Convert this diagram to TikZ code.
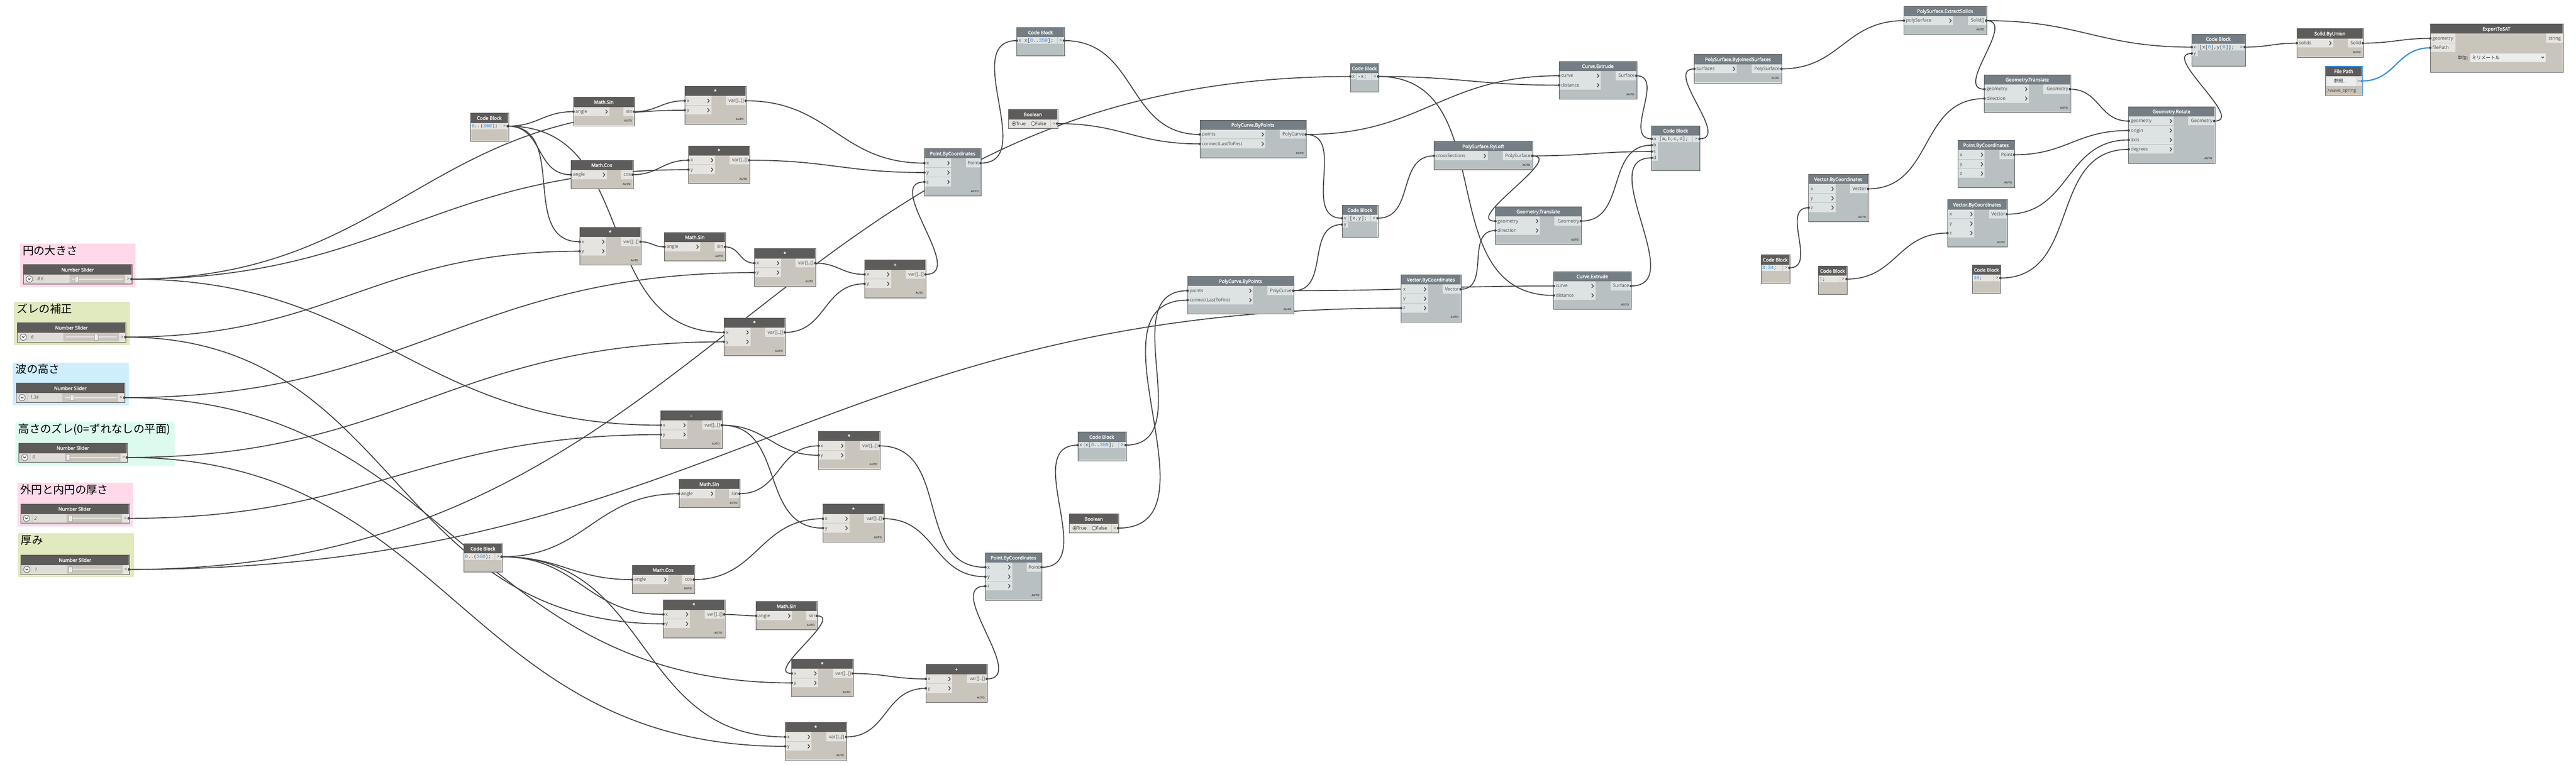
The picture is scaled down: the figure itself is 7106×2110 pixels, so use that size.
\documentclass[tikz,border=0pt]{standalone}
\usepackage{fontspec}
\setmainfont{Open Sans}
\newfontfamily\titlefont[FakeBold=2.5]{Open Sans}
\newfontfamily\jpfont{Noto Sans CJK JP}
\newfontfamily\monofont{Liberation Mono}
\usetikzlibrary{calc}
\pgfdeclarelayer{bg}\pgfdeclarelayer{groups}\pgfdeclarelayer{wires}\pgfdeclarelayer{knobs}
\pgfsetlayers{bg,groups,wires,main,knobs}
\definecolor{hdrD}{HTML}{5E5C5A}
\definecolor{bodyD}{HTML}{C9C5BD}
\definecolor{portD}{HTML}{E6E4E0}
\definecolor{hdrB}{HTML}{747E84}
\definecolor{bodyB}{HTML}{B8C0C2}
\definecolor{portB}{HTML}{DDE2E3}
\definecolor{nodeedge}{HTML}{5A5A5A}
\definecolor{wirec}{HTML}{444444}
\definecolor{txtc}{HTML}{474747}
\definecolor{codec}{HTML}{3A3A3A}
\definecolor{numblue}{HTML}{2E8CE6}
\definecolor{gpink}{HTML}{FFD9EA}
\definecolor{ggreen}{HTML}{E1E9BE}
\definecolor{gblue}{HTML}{CEEEFD}
\definecolor{gmint}{HTML}{DCFBEE}
\definecolor{fpblue}{HTML}{3A8EDD}
\definecolor{sbtn}{HTML}{DCD9D5}
\definecolor{sval}{HTML}{E0DDD9}
\definecolor{strack}{HTML}{E9E7E4}
\definecolor{ddbg}{HTML}{EDEDED}
\tikzset{
 titletxt/.style={font=\titlefont\fontsize{3.3}{3.6}\selectfont, text=white, inner sep=0},
 porttxt/.style={font=\fontsize{3.2}{3.5}\selectfont, text=txtc, inner sep=0},
 valtxt/.style={font=\itshape\fontsize{3.1}{3.4}\selectfont, text=txtc, inner sep=0},
 autotxt/.style={font=\bfseries\fontsize{1.9}{2}\selectfont, text=txtc, inner sep=0},
 codetxt/.style={font=\monofont\fontsize{3.35}{3.6}\selectfont, text=codec, inner sep=0},
 jptxt/.style={font=\jpfont\fontsize{3.2}{3.5}\selectfont, text=black!85, inner sep=0},
 grouptitle/.style={font=\jpfont\fontsize{7.6}{8}\selectfont, text=black, inner sep=0},
 wire/.style={draw=wirec, line width=0.65pt},
 chev/.style={draw=txtc, line width=0.5pt, line cap=round, line join=round},
 nodeline/.style={draw=nodeedge, line width=0.25pt},
}
\newcommand{\pw}[1]{#1*0.25pt}
\newcommand{\cnum}[1]{\textcolor{numblue}{#1}}
\newcommand{\setdims}[3]{\def\dNW{#1}\def\dNI{#2}\def\dNO{#3}}
% generic Dynamo node
\newcommand{\dnode}[8]{%
 \pgfmathsetmacro\dnh{51+26*#8}%
 \node[fill=body#4, inner sep=0, minimum width={\pw{\dNW}}, minimum height={\pw{\dnh}}, anchor=north west] (#1) at (#2,#3) {};
 \fill[hdr#4] (#2,#3) rectangle ++(\dNW,27);
 \node[titletxt, anchor=base] at ({#2+\dNW/2},{#3+18.5}) {#5};
 \foreach \lab [count=\i] in {#6} {%
   \fill[port#4] (#2,{#3+27+26*(\i-1)}) rectangle ++(\dNI,25);
   \node[porttxt, anchor=base west] at ({#2+5},{#3+44+26*(\i-1)}) {\lab};
   \draw[chev] ({#2+\dNI-10},{#3+35+26*(\i-1)}) -- ++(4.5,5) -- ++(-4.5,5);
   \coordinate (#1-i\i) at (#2,{#3+40+26*(\i-1)});
 }%
 \foreach \lab [count=\i] in {#7} {%
   \fill[port#4] ({#2+\dNW-\dNO},{#3+27+26*(\i-1)}) rectangle ++(\dNO,25);
   \node[porttxt, anchor=base east] at ({#2+\dNW-4},{#3+44+26*(\i-1)}) {\lab};
   \coordinate (#1-o\i) at ({#2+\dNW},{#3+40+26*(\i-1)});
 }%
 \node[autotxt, anchor=east] at ({#2+\dNW-5},{#3+\dnh-11.5}) {AUTO};
 \draw[nodeline] (#1.north west) rectangle (#1.south east);
}
\newcommand{\opnode}[4]{\setdims{168}{73}{54}\dnode{#1}{#2}{#3}{D}{#4}{x,y}{var[]..[]}{2}}
\newcommand{\sinnode}[3]{\setdims{167}{99}{29}\dnode{#1}{#2}{#3}{D}{Math.Sin}{angle}{sin}{1}}
\newcommand{\cosnode}[3]{\setdims{170}{99}{32}\dnode{#1}{#2}{#3}{D}{Math.Cos}{angle}{cos}{1}}
\newcommand{\pbcnode}[3]{\setdims{155}{74}{40}\dnode{#1}{#2}{#3}{B}{Point.ByCoordinates}{x,y,z}{Point}{3}}
\newcommand{\vbcnode}[3]{\setdims{164}{74}{49}\dnode{#1}{#2}{#3}{B}{Vector.ByCoordinates}{x,y,z}{Vector}{3}}
\newcommand{\pcbnode}[3]{\setdims{292}{181}{72}\dnode{#1}{#2}{#3}{B}{PolyCurve.ByPoints}{points,connectLastToFirst}{PolyCurve}{2}}
\newcommand{\cenode}[3]{\setdims{213}{115}{57}\dnode{#1}{#2}{#3}{B}{Curve.Extrude}{curve,distance}{Surface}{2}}
\newcommand{\gtnode}[3]{\setdims{236}{123}{73}\dnode{#1}{#2}{#3}{B}{Geometry.Translate}{geometry,direction}{Geometry}{2}}
% code block: name x y w theme ninputs labels code
\newcommand{\cblock}[8]{%
 \pgfmathsetmacro\dnh{max(77,52+17.5*#6)}%
 \node[fill=body#5, inner sep=0, minimum width={\pw{#4}}, minimum height={\pw{\dnh}}, anchor=north west] (#1) at (#2,#3) {};
 \fill[hdr#5] (#2,#3) rectangle ++(#4,27);
 \node[titletxt, anchor=base] at ({#2+#4/2},{#3+18.5}) {Code Block};
 \ifnum#6>0
   \foreach \lab [count=\i] in {#7} {%
     \fill[port#5] (#2,{#3+27+17.5*(\i-1)}) rectangle ++(17,17);
     \node[porttxt, anchor=base] at ({#2+8.5},{#3+40+17.5*(\i-1)}) {\lab};
     \coordinate (#1-i\i) at (#2,{#3+36+17.5*(\i-1)});
   }%
   \fill[port#5] ({#2+18},{#3+27}) rectangle ({#2+#4-19},{#3+45});
   \node[codetxt, anchor=base west] at ({#2+20},{#3+40}) {#8};
 \else
   \fill[port#5] (#2,{#3+27}) rectangle ({#2+#4-19},{#3+45});
   \node[codetxt, anchor=base west] at ({#2+2},{#3+40}) {#8};
 \fi
 \fill[port#5] ({#2+#4-18},{#3+27}) rectangle ({#2+#4},{#3+45});
 \node[porttxt, anchor=base] at ({#2+#4-9},{#3+40}) {>};
 \coordinate (#1-o) at ({#2+#4},{#3+36});
 \draw[nodeline] (#1.north west) rectangle (#1.south east);
}
% number slider: name x y value thumb
\newcommand{\slider}[5]{%
 \node[fill=bodyD, inner sep=0, minimum width={\pw{298}}, minimum height={\pw{52}}, anchor=north west] (#1) at (#2,#3) {};
 \fill[hdrD] (#2,#3) rectangle ++(298,28);
 \node[titletxt, anchor=base] at ({#2+149},{#3+19}) {Number Slider};
 \fill[sbtn] (#2,{#3+28}) rectangle ++(31,24);
 \draw[fill=white!96!black, draw=txtc, line width=0.25pt] ({#2+16},{#3+40}) circle[radius=2.2pt];
 \draw[chev] ({#2+13},{#3+38.5}) -- ({#2+16},{#3+41.5}) -- ({#2+19},{#3+38.5});
 \fill[sval] ({#2+32},{#3+28}) rectangle ({#2+127},{#3+52});
 \node[valtxt, anchor=base west] at ({#2+37},{#3+44}) {#4};
 \draw[draw=strack, line width=0.75pt] ({#2+134},{#3+40}) -- ({#2+275},{#3+40});
 \draw[fill=white!93!black, draw=black!35, line width=0.2pt] ({#2+#5},{#3+32}) rectangle ++(10,16);
 \fill[portD] ({#2+280},{#3+28}) rectangle ({#2+298},{#3+52});
 \node[porttxt, anchor=base] at ({#2+289},{#3+44}) {>};
 \coordinate (#1-o) at ({#2+298},{#3+40});
 \draw[nodeline] (#1.north west) rectangle (#1.south east);
}
\newcommand{\boolnode}[3]{%
 \node[fill=bodyD, inner sep=0, minimum width={\pw{134}}, minimum height={\pw{51}}, anchor=north west] (#1) at (#2,#3) {};
 \fill[hdrD] (#2,#3) rectangle ++(134,27);
 \node[titletxt, anchor=base] at ({#2+67},{#3+18.5}) {Boolean};
 \fill[portD] (#2,{#3+27}) rectangle ({#2+116},{#3+51});
 \fill[portD] ({#2+117},{#3+27}) rectangle ({#2+134},{#3+51});
 \draw[fill=white, draw=txtc, line width=0.25pt] ({#2+15},{#3+39}) circle[radius=1.35pt];
 \fill[black!80] ({#2+15},{#3+39}) circle[radius=0.7pt];
 \node[porttxt, text=black!85, anchor=base west] at ({#2+20},{#3+43.5}) {True};
 \draw[fill=white, draw=txtc, line width=0.25pt] ({#2+68},{#3+39}) circle[radius=1.35pt];
 \node[porttxt, text=black!85, anchor=base west] at ({#2+73},{#3+43.5}) {False};
 \node[porttxt, anchor=base] at ({#2+125.5},{#3+43.5}) {>};
 \coordinate (#1-o) at ({#2+134},{#3+39});
 \draw[nodeline] (#1.north west) rectangle (#1.south east);
}
\newcommand{\grp}[7]{%
 \begin{pgfonlayer}{groups}
 \node[fill=#6, inner sep=0, minimum width={\pw{(#4-#2)}}, minimum height={\pw{(#5-#3)}}, anchor=north west] (#1) at (#2,#3) {};
 \node[grouptitle, anchor=base west] (#1t) at ({#2+8},{#3+31}) {#7};
 \end{pgfonlayer}}
\newcommand{\wire}[2]{%
 \begin{pgfonlayer}{wires}\draw[wire] (#1) to[out=0,in=180,looseness=1.15] (#2);\end{pgfonlayer}%
 \begin{pgfonlayer}{knobs}\fill[wirec] (#1) circle[radius=0.85pt];\fill[wirec] (#2) circle[radius=0.85pt];\end{pgfonlayer}}
\begin{document}
\begin{tikzpicture}[x=0.25pt,y=-0.25pt]
\begin{pgfonlayer}{bg}\fill[white] (0,0) rectangle (7106,2110);\end{pgfonlayer}
\useasboundingbox (0,0) rectangle (7106,2110);
% groups and sliders
\grp{G1}{54}{672}{373}{791}{gpink}{円の大きさ}
\grp{G2}{38}{832}{357}{952}{ggreen}{ズレの補正}
\grp{G3}{35}{999}{354}{1118}{gblue}{波の高さ}
\grp{G4}{42}{1163}{481}{1284}{gmint}{高さのズレ(0=ずれなしの平面)}
\grp{G5}{47}{1331}{366}{1451}{gpink}{外円と内円の厚さ}
\grp{G6}{49}{1470}{368}{1591}{ggreen}{厚み}
\slider{S1}{65}{730}{8.6}{141}
\slider{S2}{48}{890}{6}{213}
\slider{S3}{45}{1057}{1.34}{148}
\slider{S4}{52}{1222}{0}{130}
\slider{S5}{57}{1390}{2}{132}
\slider{S6}{58}{1531}{1}{132}
% upper cluster
\cblock{CB1}{1298}{312}{103}{D}{0}{}{\cnum{0}..(\cnum{360});}
\sinnode{MS1}{1582}{268}
\opnode{M1}{1889}{238}{*}
\cosnode{MC1}{1575}{442}
\opnode{M2}{1899}{402}{*}
\opnode{M3}{1599}{627}{*}
\sinnode{MS2}{1833}{641}
\opnode{M4}{2081}{686}{*}
\opnode{P0}{1997}{877}{*}
\opnode{P1}{2385}{717}{+}
\pbcnode{PBC1}{2550}{410}
\cblock{CB2}{2805}{76}{130}{B}{1}{x}{x[\cnum{0}..\cnum{359}];}
\boolnode{B1}{2782}{302}
\pcbnode{PCB1}{3310}{331}
% lower cluster
\opnode{D1}{1823}{1133}{-}
\sinnode{MS3}{1873}{1322}
\cblock{CB9}{1280}{1500}{104}{D}{0}{}{\cnum{0}..(\cnum{360});}
\cosnode{MC2}{1744}{1559}
\opnode{M7}{1830}{1655}{*}
\sinnode{MS4}{2086}{1659}
\opnode{M5}{2258}{1190}{*}
\opnode{M6}{2270}{1391}{*}
\pbcnode{PBC2}{2718}{1525}
\cblock{CB10}{2973}{1192}{132}{B}{1}{x}{x[\cnum{0}..\cnum{359}];}
\boolnode{B2}{2950}{1418}
\opnode{M8}{2184}{1818}{*}
\opnode{P2}{2554}{1833}{+}
\opnode{M9}{2166}{1993}{*}
\pcbnode{PCB2}{3276}{762}
% middle
\cblock{CB3}{3725}{175}{77}{B}{1}{x}{-x;}
\cenode{CE1}{4301}{169}
\setdims{240}{117}{82}\dnode{PSJ}{4674}{150}{B}{PolySurface.ByJoinedSurfaces}{surfaces}{PolySurface}{1}
\cblock{CB4}{4556}{347}{132}{B}{4}{a,b,c,d}{[a,b,c,d];}
\setdims{271}{148}{81}\dnode{PSL}{3956}{390}{B}{PolySurface.ByLoft}{crossSections}{PolySurface}{1}
\cblock{CB5}{3702}{566}{98}{B}{2}{x,y}{[x,y];}
\gtnode{GT1}{4125}{570}
\vbcnode{VBC1}{3865}{758}
\cenode{CE2}{4286}{749}
% right
\vbcnode{VBC2}{4989}{481}
\cblock{CB6}{4858}{703}{78}{D}{0}{}{\cnum{3.34};}
\setdims{227}{136}{50}\dnode{PSE}{5252}{17}{B}{PolySurface.ExtractSolids}{polySurface}{Solid[]}{1}
\gtnode{GT2}{5474}{206}
\pbcnode{PBC3}{5401}{387}
\vbcnode{VBC3}{5372}{551}
\cblock{CB7}{5016}{734}{78}{D}{0}{}{\cnum{1};}
\cblock{CB8}{5441}{731}{77}{D}{0}{}{\cnum{30};}
\setdims{236}{124}{72}\dnode{GR}{5872}{294}{B}{Geometry.Rotate}{geometry,origin,axis,degrees}{Geometry}{4}
\cblock{CB11}{6046}{94}{146}{B}{2}{x,y}{[x[\cnum{0}],y[\cnum{0}]];}
\setdims{182}{100}{41}\dnode{SBU}{6336}{79}{D}{Solid.ByUnion}{solids}{Solid}{1}
% ExportToSAT
\node[fill=bodyD, inner sep=0, minimum width={\pw{365}}, minimum height={\pw{132}}, anchor=north west] (EXP) at (6704,66) {};
\fill[hdrD] (6704,66) rectangle ++(365,27);
\node[titletxt, anchor=base] at (6886.5,84.5) {ExportToSAT};
\fill[portD] (6704,93) rectangle ++(69,25);
\fill[portD] (6704,119) rectangle ++(69,25);
\node[porttxt, anchor=base west] at (6709,110) {geometry};
\node[porttxt, anchor=base west] at (6709,136) {filePath};
\fill[portD] (7023,93) rectangle ++(46,25);
\node[porttxt, anchor=base east] at (7065,110) {string};
\coordinate (EXP-i1) at (6704,106);
\coordinate (EXP-i2) at (6704,132);
\node[jptxt, anchor=base east] at (6809,164) {単位:};
\draw[fill=ddbg, draw=black!20, line width=0.25pt] (6813,147) rectangle (7022,171);
\node[jptxt, anchor=base west] at (6818,164) {ミリメートル};
\draw[chev] (7011,157) -- (7014,160) -- (7017,157);
\draw[nodeline] (EXP.north west) rectangle (EXP.south east);
% File Path
\node[fill=bodyD, inner sep=0, minimum width={\pw{100}}, minimum height={\pw{79}}, anchor=north west] (FP) at (6415,183) {};
\fill[hdrD] (6415,183) rectangle ++(100,27);
\node[titletxt, anchor=base] at (6465,201.5) {File Path};
\fill[white!93!black] (6415,210) rectangle (6497,237);
\node[jptxt, anchor=base] at (6456,228) {参照...};
\fill[portD] (6498,210) rectangle (6515,237);
\node[porttxt, anchor=base] at (6506.5,228) {>};
\node[porttxt, anchor=base west] at (6417,254) {.\textbackslash wave\_spring};
\draw[draw=fpblue, line width=0.55pt] (FP.north west) rectangle (FP.south east);
\coordinate (FP-o) at (6515,223.5);
% ---------------- wires
\wire{S1-o}{M1-i2}\wire{S1-o}{M2-i2}\wire{S1-o}{D1-i1}
\wire{S2-o}{M3-i2}\wire{S2-o}{M7-i2}
\wire{S3-o}{M4-i2}\wire{S3-o}{M8-i2}
\wire{S4-o}{P0-i2}\wire{S4-o}{M9-i2}
\wire{S5-o}{D1-i2}
\wire{S6-o}{CB3-i1}\wire{S6-o}{VBC1-i3}
\wire{CB1-o}{MS1-i1}\wire{CB1-o}{MC1-i1}\wire{CB1-o}{M3-i1}\wire{CB1-o}{P0-i1}
\wire{MS1-o1}{M1-i1}
\wire{MC1-o1}{M2-i1}
\wire{M3-o1}{MS2-i1}
\wire{MS2-o1}{M4-i1}
\wire{M4-o1}{P1-i1}
\wire{P0-o1}{P1-i2}
\wire{M1-o1}{PBC1-i1}
\wire{M2-o1}{PBC1-i2}
\wire{P1-o1}{PBC1-i3}
\wire{PBC1-o1}{CB2-i1}
\wire{CB2-o}{PCB1-i1}
\wire{B1-o}{PCB1-i2}
\wire{PCB1-o1}{CE1-i1}\wire{PCB1-o1}{CB5-i1}
\wire{CB3-o}{CE1-i2}\wire{CB3-o}{CE2-i2}
\wire{PCB2-o1}{CB5-i2}\wire{PCB2-o1}{CE2-i1}
\wire{CB5-o}{PSL-i1}
\wire{PSL-o1}{GT1-i1}\wire{PSL-o1}{CB4-i3}
\wire{VBC1-o1}{GT1-i2}
\wire{CE1-o1}{CB4-i1}
\wire{GT1-o1}{CB4-i2}
\wire{CE2-o1}{CB4-i4}
\wire{CB4-o}{PSJ-i1}
\wire{PSJ-o1}{PSE-i1}
\wire{PSE-o1}{GT2-i1}\wire{PSE-o1}{CB11-i1}
\wire{VBC2-o1}{GT2-i2}
\wire{CB6-o}{VBC2-i3}
\wire{GT2-o1}{GR-i1}
\wire{PBC3-o1}{GR-i2}
\wire{VBC3-o1}{GR-i3}
\wire{CB7-o}{VBC3-i3}
\wire{CB8-o}{GR-i4}
\wire{GR-o1}{CB11-i2}
\wire{CB11-o}{SBU-i1}
\wire{SBU-o1}{EXP-i1}
\wire{D1-o1}{M5-i2}\wire{D1-o1}{M6-i2}
\wire{CB9-o}{MS3-i1}\wire{CB9-o}{MC2-i1}\wire{CB9-o}{M7-i1}\wire{CB9-o}{M9-i1}
\wire{MS3-o1}{M5-i1}
\wire{MC2-o1}{M6-i1}
\wire{M7-o1}{MS4-i1}
\wire{MS4-o1}{M8-i1}
\wire{M8-o1}{P2-i1}
\wire{M9-o1}{P2-i2}
\wire{M5-o1}{PBC2-i1}
\wire{M6-o1}{PBC2-i2}
\wire{P2-o1}{PBC2-i3}
\wire{PBC2-o1}{CB10-i1}
\wire{CB10-o}{PCB2-i1}
\wire{B2-o}{PCB2-i2}
\begin{pgfonlayer}{wires}\draw[wire, draw=fpblue, line width=0.85pt] (FP-o) to[out=0,in=180,looseness=1.15] (EXP-i2);\end{pgfonlayer}
\begin{pgfonlayer}{knobs}\fill[fpblue] (FP-o) circle[radius=0.85pt];\fill[wirec] (EXP-i2) circle[radius=0.85pt];\end{pgfonlayer}
\end{tikzpicture}
\end{document}
